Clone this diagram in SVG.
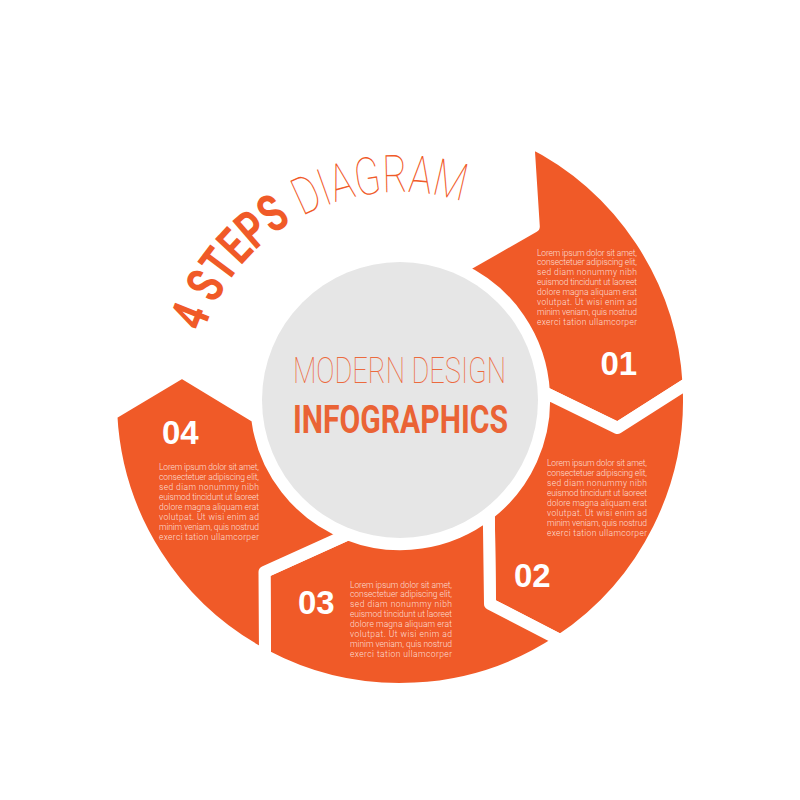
<svg xmlns="http://www.w3.org/2000/svg" width="800" height="800" viewBox="0 0 800 800">
  <style>
    .seg { fill: #f05a28; stroke: #ffffff; stroke-width: 12; stroke-linejoin: round; }
    .num { font-family: "Liberation Sans", Arial, sans-serif; font-weight: 700; font-size: 33px; fill: #ffffff; }
    .lorem { font-family: Roboto, "Open Sans", sans-serif; font-weight: 300; font-size: 8.5px; fill: #ffffff; fill-opacity: 0.8; }
    .title-bold { font-family: Roboto, "Liberation Sans", sans-serif; font-weight: 700; font-size: 52px; fill: #f05a28; }
    .title-thin { font-family: Roboto, "Liberation Sans", sans-serif; font-weight: 100; font-size: 52px; fill: #f05a28; }
    .center-thin { font-family: Roboto, "Liberation Sans", sans-serif; font-weight: 100; font-size: 37px; fill: #ec6a3e; }
    .center-bold { font-family: Roboto, "Liberation Sans", sans-serif; font-weight: 700; font-size: 39px; fill: #ea6335; }
  </style>
  <defs>
    <path id="titleArc" d="M 199.1 346.2 A 208 208 0 0 1 504 219.9" fill="none"/>
  </defs>
  <rect width="800" height="800" fill="#ffffff"/>

  <g id="title">
    <text class="title-bold"><textPath href="#titleArc" startOffset="14" textLength="145" lengthAdjust="spacingAndGlyphs">4 STEPS</textPath></text>
    <text class="title-thin"><textPath href="#titleArc" startOffset="170.6" textLength="165" lengthAdjust="spacingAndGlyphs">DIAGRAM</textPath></text>
  </g>

  <g id="step01">
    <path class="seg" d="M 528.3 140.9 A 289 289 0 0 1 688.5 382.8 L 617.5 428 L 543.9 392.1 A 144 144 0 0 0 459.8 268.9 L 533.8 226.6 Z"/>
    <text class="num" x="600.5" y="375">01</text>
    <g class="lorem">
      <text x="537" y="255.5" textLength="100" lengthAdjust="spacing">Lorem ipsum dolor sit amet,</text>
      <text x="537" y="265.4" textLength="100" lengthAdjust="spacing">consectetuer adipiscing elit,</text>
      <text x="537" y="275.3" textLength="100" lengthAdjust="spacing">sed diam nonummy nibh</text>
      <text x="537" y="285.2" textLength="100" lengthAdjust="spacing">euismod tincidunt ut laoreet</text>
      <text x="537" y="295.1" textLength="100" lengthAdjust="spacing">dolore magna aliquam erat</text>
      <text x="537" y="305.0" textLength="100" lengthAdjust="spacing">volutpat. Ut wisi enim ad</text>
      <text x="537" y="314.9" textLength="100" lengthAdjust="spacing">minim veniam, quis nostrud</text>
      <text x="537" y="324.8" textLength="100" lengthAdjust="spacing">exerci tation ullamcorper</text>
    </g>
  </g>

  <g id="step02">
    <path class="seg" d="M 688.5 382.8 A 289 289 0 0 1 560.5 640.3 L 490 604 L 488.8 513.8 A 144 144 0 0 0 543.9 392.1 L 617.5 428 Z"/>
    <text class="num" x="514" y="586.5">02</text>
    <g class="lorem">
      <text x="547" y="465.5" textLength="100" lengthAdjust="spacing">Lorem ipsum dolor sit amet,</text>
      <text x="547" y="475.6" textLength="100" lengthAdjust="spacing">consectetuer adipiscing elit,</text>
      <text x="547" y="485.7" textLength="100" lengthAdjust="spacing">sed diam nonummy nibh</text>
      <text x="547" y="495.8" textLength="100" lengthAdjust="spacing">euismod tincidunt ut laoreet</text>
      <text x="547" y="505.9" textLength="100" lengthAdjust="spacing">dolore magna aliquam erat</text>
      <text x="547" y="516.0" textLength="100" lengthAdjust="spacing">volutpat. Ut wisi enim ad</text>
      <text x="547" y="526.1" textLength="100" lengthAdjust="spacing">minim veniam, quis nostrud</text>
      <text x="547" y="536.2" textLength="100" lengthAdjust="spacing">exerci tation ullamcorper</text>
    </g>
  </g>

  <g id="step03">
    <path class="seg" d="M 560.5 640.3 A 289 289 0 0 1 265 655.5 L 264.5 572 L 348 534.3 A 144 144 0 0 0 488.8 513.8 L 490 604 Z"/>
    <text class="num" x="298" y="614">03</text>
    <g class="lorem">
      <text x="350" y="587.5" textLength="102" lengthAdjust="spacing">Lorem ipsum dolor sit amet,</text>
      <text x="350" y="597.4" textLength="102" lengthAdjust="spacing">consectetuer adipiscing elit,</text>
      <text x="350" y="607.3" textLength="102" lengthAdjust="spacing">sed diam nonummy nibh</text>
      <text x="350" y="617.2" textLength="102" lengthAdjust="spacing">euismod tincidunt ut laoreet</text>
      <text x="350" y="627.1" textLength="102" lengthAdjust="spacing">dolore magna aliquam erat</text>
      <text x="350" y="637.0" textLength="102" lengthAdjust="spacing">volutpat. Ut wisi enim ad</text>
      <text x="350" y="646.9" textLength="102" lengthAdjust="spacing">minim veniam, quis nostrud</text>
      <text x="350" y="656.8" textLength="102" lengthAdjust="spacing">exerci tation ullamcorper</text>
    </g>
  </g>

  <g id="step04">
    <path class="seg" d="M 265 655.5 A 289 289 0 0 1 111.3 414.4 L 182 372 L 257 417.5 A 144 144 0 0 0 348 534.3 L 264.5 572 Z"/>
    <text class="num" x="162" y="444">04</text>
    <g class="lorem">
      <text x="159" y="469.5" textLength="100" lengthAdjust="spacing">Lorem ipsum dolor sit amet,</text>
      <text x="159" y="479.5" textLength="100" lengthAdjust="spacing">consectetuer adipiscing elit,</text>
      <text x="159" y="489.5" textLength="100" lengthAdjust="spacing">sed diam nonummy nibh</text>
      <text x="159" y="499.5" textLength="100" lengthAdjust="spacing">euismod tincidunt ut laoreet</text>
      <text x="159" y="509.5" textLength="100" lengthAdjust="spacing">dolore magna aliquam erat</text>
      <text x="159" y="519.5" textLength="100" lengthAdjust="spacing">volutpat. Ut wisi enim ad</text>
      <text x="159" y="529.5" textLength="100" lengthAdjust="spacing">minim veniam, quis nostrud</text>
      <text x="159" y="539.5" textLength="100" lengthAdjust="spacing">exerci tation ullamcorper</text>
    </g>
  </g>

  <g id="center">
    <circle cx="400" cy="400" r="138" fill="#e6e6e6"/>
    <text class="center-thin" x="293" y="383" textLength="213" lengthAdjust="spacingAndGlyphs">MODERN DESIGN</text>
    <text class="center-bold" x="293" y="433" textLength="215" lengthAdjust="spacingAndGlyphs">INFOGRAPHICS</text>
  </g>
</svg>
